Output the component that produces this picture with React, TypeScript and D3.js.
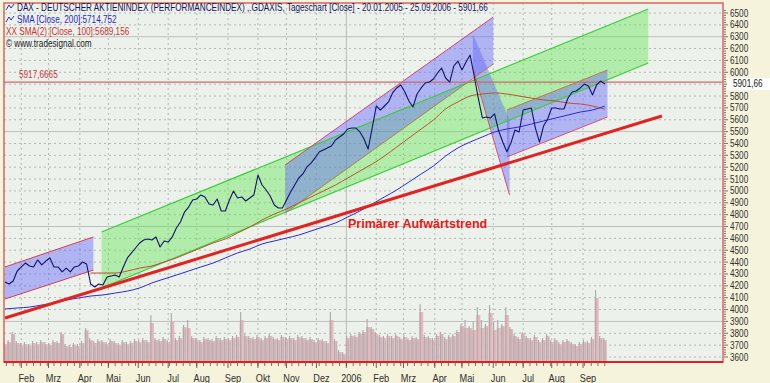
import React from "react";
import * as d3 from "d3";

const W = 770;
const H = 383;

// Weekday index 0 = 14.01.2005 (first bar visible at the left edge)
const START = [2005, 0, 14];
const PRICE_STEP = 3; // one close every 3rd trading day
const SMA_STEP = 9;

const priceClose = [
  4232, 4215, 4241, 4325, 4359, 4392, 4367, 4359, 4418, 4376,
  4409, 4435, 4359, 4359, 4317, 4350, 4317, 4359, 4367, 4401,
  4384, 4215, 4190, 4215, 4207, 4274, 4283, 4291, 4274, 4359,
  4435, 4477, 4519, 4561, 4586, 4595, 4586, 4612, 4527, 4578,
  4569, 4612, 4687, 4738, 4822, 4864, 4923, 4932, 4966, 4949,
  4890, 4881, 4932, 4831, 4831, 4923, 4999, 4940, 4949, 4915,
  4940, 4966, 5134, 5050, 5008, 4957, 4881, 4856, 4856, 4923,
  4991, 5050, 5109, 5143, 5202, 5235, 5278, 5328, 5345, 5362,
  5379, 5429, 5455, 5480, 5522, 5530, 5530, 5497, 5438, 5353,
  5530, 5716, 5682, 5716, 5750, 5826, 5868, 5893, 5834, 5758,
  5708, 5817, 5868, 5910, 5918, 5944, 5994, 6036, 5952, 5918,
  6053, 6095, 6020, 6087, 6146, 5969, 5783, 5615, 5623, 5615,
  5649, 5505, 5412, 5330, 5404, 5514, 5497, 5682, 5691, 5699,
  5530, 5412, 5547, 5606, 5699, 5699, 5691, 5691, 5783, 5834,
  5842, 5868, 5901, 5885, 5809, 5893, 5927, 5901.66,
];

const volume = [
  20, 22, 30, 21, 19, 20, 18, 21, 20, 22,
  20, 19, 22, 21, 30, 18, 17, 19, 18, 21,
  34, 24, 21, 23, 22, 20, 23, 21, 19, 22,
  20, 21, 23, 22, 24, 22, 47, 24, 23, 25,
  22, 49, 24, 26, 37, 42, 26, 24, 22, 25,
  24, 23, 26, 24, 25, 24, 26, 27, 50, 28,
  26, 25, 27, 24, 26, 28, 25, 24, 27, 25,
  26, 24, 27, 26, 24, 25, 22, 24, 23, 21,
  50, 23, 12, 10, 26, 28, 27, 30, 32, 43,
  35, 30, 27, 26, 28, 26, 28, 25, 27, 24,
  26, 25, 58, 27, 26, 24, 28, 30, 25, 27,
  28, 32, 38, 42, 36, 40, 55, 42, 38, 57,
  40, 42, 38, 55, 35, 28, 25, 30, 26, 24,
  27, 22, 24, 28, 22, 24, 20, 22, 23, 20,
  18, 20, 22, 21, 25, 72, 26, 24,
];

const sma200 = [
  4005, 4013, 4021, 4038, 4055, 4080, 4097, 4114, 4123, 4139,
  4156, 4182, 4224, 4258, 4291, 4325, 4359, 4392, 4435, 4477,
  4510, 4553, 4578, 4603, 4628, 4662, 4696, 4730, 4780, 4831,
  4890, 4949, 5008, 5075, 5143, 5210, 5294, 5362, 5412, 5455,
  5497, 5522, 5539, 5564, 5590, 5615, 5640, 5665, 5682, 5714.752,
];

const sma100: (number | null)[] = [
  null, null, null, null, null, null, null,
  4308, 4308, 4308, 4325, 4350, 4367, 4401, 4435, 4477, 4519,
  4561, 4595, 4645, 4696, 4755, 4805, 4848, 4898, 4949, 4999,
  5050, 5109, 5168, 5227, 5294, 5370, 5446, 5522, 5598, 5691,
  5750, 5800, 5817, 5826, 5817, 5800, 5783, 5767, 5758, 5741,
  5733, 5716, 5689.156,
];

// Drawn channels: [startIdx, endIdx, topStart, topEnd, bottomStart, bottomEnd]
const greenChannel = [71, 473, 4654, 6534, 4182, 6079];
const blueChannel1 = [0, 65, 4359, 4612, 4089, 4333];
const blueChannel2 = [206, 359, 5219, 6466, 4814, 6070];
const crashChannel = [344, 371, 6322, 5598, 6036, 4966];
const blueChannel4 = [369, 443, 5682, 6019, 5286, 5623];
// Primary trend line: [startIdx, startValue, endIdx, endValue]
const trendLine = [0, 3929, 483, 5632];
const hLevel = 5917.6665;
const lastClose = 5901.66;

const monthNames = ["Jan", "Feb", "Mrz", "Apr", "Mai", "Jun", "Jul", "Aug", "Sep", "Okt", "Nov", "Dez"];
const yTicks = d3.range(3600, 6501, 100);
const yMajorGrid = [3900, 4700, 5500, 6300];

const legendLines = [
  "DAX  - DEUTSCHER AKTIENINDEX (PERFORMANCEINDEX) ,.GDAXIS, Tageschart [Close] - 20.01.2005 - 25.09.2006 - 5901,66",
  "SMA [Close, 200]:5714,752",
  "XX SMA(2) [Close, 100]:5689,156",
  "© www.tradesignal.com",
];

const FONT = "'Liberation Sans', Arial, sans-serif";
const PLOT_L = 4, PLOT_R = 723, PLOT_T = 3, PLOT_B = 362;
const LAST_IDX = (priceClose.length - 1) * PRICE_STEP;

export default function App() {
  const weekdays: Date[] = [];
  const d = new Date(START[0], START[1], START[2]);
  while (weekdays.length < 530) {
    const wd = d.getDay();
    if (wd !== 0 && wd !== 6) weekdays.push(new Date(d));
    d.setDate(d.getDate() + 1);
  }

  const x = d3.scaleLinear().domain([0, 528]).range([5, 5 + 528 * 1.36]);
  const y = d3.scaleLinear().domain([3600, 6500]).range([357, 13]);
  const yVol = d3.scaleLinear().domain([0, 100]).range([PLOT_B, PLOT_B - 100]);
  const barStep = x(PRICE_STEP) - x(0);

  const monthTicks: { i: number; label: string; year: boolean }[] = [];
  const weekTicks: number[] = [];
  for (let i = 1; i <= LAST_IDX; i++) {
    const a = weekdays[i], b = weekdays[i - 1];
    if (a.getMonth() !== b.getMonth()) {
      monthTicks.push({ i, label: a.getMonth() === 0 ? String(a.getFullYear()) : monthNames[a.getMonth()], year: a.getMonth() === 0 });
    }
    if (a.getDay() === 1) weekTicks.push(i);
  }

  const pricePts = priceClose.map((v, k) => [x(k * PRICE_STEP), y(v)] as [number, number]);
  const line = d3.line();
  const smooth = d3.line().curve(d3.curveMonotoneX);
  const sma200Pts = sma200.map((v, j) => [x(j * SMA_STEP), y(v)] as [number, number]);
  const sma100Pts = sma100
    .map((v, j) => (v == null ? null : ([x(j * SMA_STEP), y(v)] as [number, number])))
    .filter((p): p is [number, number] => p != null);

  const chanPoly = (c: number[]) =>
    `M${x(c[0])},${y(c[2])}L${x(c[1])},${y(c[3])}L${x(c[1])},${y(c[5])}L${x(c[0])},${y(c[4])}Z`;
  const seg = (c: number[], top: boolean) =>
    top
      ? { x1: x(c[0]), y1: y(c[2]), x2: x(c[1]), y2: y(c[3]) }
      : { x1: x(c[0]), y1: y(c[4]), x2: x(c[1]), y2: y(c[5]) };

  const blueFill = "rgba(95,95,250,0.42)";
  const greenFill = "rgba(95,228,80,0.42)";

  const icon = (yy: number, color: string) => (
    <path d={`M6,${yy}L9,${yy - 5}L11,${yy - 2}L14,${yy - 6}`} fill="none" stroke={color} strokeWidth={1} />
  );

  return (
    <svg width={W} height={H} style={{ position: "absolute", left: 0, top: 0 }} fontFamily={FONT}>
      <rect x={0} y={0} width={W} height={H} fill="#f5f3dc" />
      <rect x={PLOT_L} y={PLOT_T} width={PLOT_R - PLOT_L} height={PLOT_B - PLOT_T} fill="#edf1ec" />
      <defs>
        <clipPath id="plotclip">
          <rect x={PLOT_L} y={PLOT_T} width={PLOT_R - PLOT_L} height={PLOT_B - PLOT_T} />
        </clipPath>
      </defs>

      {/* horizontal grid */}
      {yTicks.map((t) => (
        <line key={"gy" + t} x1={PLOT_L} x2={PLOT_R} y1={y(t)} y2={y(t)}
          stroke={yMajorGrid.includes(t) ? "#bcc0bc" : "#b4b8b4"}
          strokeDasharray={yMajorGrid.includes(t) ? undefined : "2,3"} strokeWidth={1} />
      ))}
      {/* vertical grid */}
      {monthTicks.map((m) => (
        <line key={"gx" + m.i} x1={x(m.i)} x2={x(m.i)} y1={PLOT_T} y2={PLOT_B}
          stroke={m.year ? "#b8bcb8" : "#b4b8b4"} strokeDasharray={m.year ? undefined : "2,3"} />
      ))}

      <g clipPath="url(#plotclip)">
        {/* volume */}
        {volume.map((v, k) => {
          const bx = x(k * PRICE_STEP) - barStep / 2;
          const top = yVol(v);
          const spike = v >= 40;
          return (
            <g key={"v" + k}>
              <rect x={bx} y={top + (spike ? 8 : 2)} width={barStep} height={PLOT_B - top - (spike ? 8 : 2)} fill="#e3b8bc" />
              <rect x={bx + 0.5} y={top} width={1.1} height={PLOT_B - top} fill="#aaa9ab" />
              {!spike && <rect x={bx + barStep * 0.6} y={top + 4} width={0.9} height={PLOT_B - top - 4} fill="#bcb4b6" />}
            </g>
          );
        })}

        {/* channels */}
        <path d={chanPoly(greenChannel)} fill={greenFill} />
        <path d={chanPoly(blueChannel1)} fill={blueFill} />
        <path d={chanPoly(blueChannel2)} fill={blueFill} />
        <path d={chanPoly(crashChannel)} fill={blueFill} />
        <path d={chanPoly(blueChannel4)} fill={blueFill} />

        <line {...seg(greenChannel, true)} stroke="#3ccd3c" strokeWidth={1.2} />
        <line {...seg(greenChannel, false)} stroke="#3ccd3c" strokeWidth={1.2} />
        <line {...seg(blueChannel1, true)} stroke="#d83c50" strokeWidth={1} />
        <line {...seg(blueChannel1, false)} stroke="#d83c50" strokeWidth={1} />
        <line {...seg(blueChannel2, true)} stroke="#d8407a" strokeWidth={1} />
        <line {...seg(blueChannel2, false)} stroke="#b88040" strokeWidth={1} />
        <line {...seg(crashChannel, false)} stroke="#d8507a" strokeWidth={1} />
        <line {...seg(blueChannel4, true)} stroke="#c87838" strokeWidth={1} />
        <line {...seg(blueChannel4, false)} stroke="#d8507a" strokeWidth={1} />

        {/* horizontal level */}
        <line x1={PLOT_L} x2={PLOT_R} y1={y(hLevel)} y2={y(hLevel)} stroke="#cc6a6a" strokeWidth={1.2} />

        {/* moving averages */}
        <path d={smooth(sma100Pts) || ""} fill="none" stroke="#c0502c" strokeWidth={1} />
        <path d={smooth(sma200Pts) || ""} fill="none" stroke="#2a2ad0" strokeWidth={1} />

        {/* primary trend */}
        <line x1={x(trendLine[0])} y1={y(trendLine[1])} x2={x(trendLine[2])} y2={y(trendLine[3])}
          stroke="#e02424" strokeWidth={3} />

        {/* price */}
        <path d={line(pricePts) || ""} fill="none" stroke="#12126a" strokeWidth={1.1} strokeLinejoin="round" />
      </g>

      {/* frame */}
      <rect x={PLOT_L} y={PLOT_T} width={PLOT_R - PLOT_L} height={PLOT_B - PLOT_T} fill="none" stroke="#d86464" strokeWidth={1.5} />
      <line x1={PLOT_L} x2={PLOT_R} y1={PLOT_B} y2={PLOT_B} stroke="#e02020" strokeWidth={2} />

      {/* y axis ticks */}
      {d3.range(3600, 6521, 20).map((t) => (
        <line key={"ym" + t} x1={PLOT_R + 1} x2={PLOT_R + (t % 100 === 0 ? 5 : 3)} y1={y(t)} y2={y(t)} stroke="#505050" strokeWidth={0.8} />
      ))}
      {yTicks.filter((t) => Math.abs(t - lastClose) > 60).map((t) => (
        <text key={"yl" + t} transform={`translate(730,${y(t) + 3.5}) scale(0.82,1)`} fontSize={10} fill="#303030">{t}</text>
      ))}
      <rect x={727} y={y(lastClose) - 6} width={43} height={12} fill="#ffffff" />
      <text transform={`translate(733,${y(lastClose) + 3.5}) scale(0.82,1)`} fontSize={10} fill="#202020">5901,66</text>

      {/* x axis */}
      {weekTicks.map((i) => (
        <line key={"wt" + i} x1={x(i)} x2={x(i)} y1={PLOT_B + 1} y2={PLOT_B + 4} stroke="#505050" strokeWidth={0.8} />
      ))}
      {monthTicks.map((m) => (
        <g key={"mt" + m.i}>
          <line x1={x(m.i)} x2={x(m.i)} y1={PLOT_B + 1} y2={PLOT_B + 6} stroke="#404040" strokeWidth={0.8} />
          <text transform={`translate(${x(m.i) + 5},${PLOT_B + 20}) scale(0.92,1)`} fontSize={10} textAnchor="middle" fill="#303030">{m.label}</text>
        </g>
      ))}

      {/* annotations */}
      <text transform={`translate(19,${y(hLevel) - 4}) scale(0.82,1)`} fontSize={10} fill="#c43c3c">5917,6665</text>
      <text x={348} y={228} fontSize={12.5} fontWeight="bold" fill="#e02020">Primärer Aufwärtstrend</text>

      {/* legend */}
      {icon(10, "#3030a0")}
      <text transform="translate(17,11) scale(0.78,1)" fontSize={10.5} fill="#14145a">{legendLines[0]}</text>
      {icon(22, "#3030c8")}
      <text transform="translate(17,23) scale(0.78,1)" fontSize={10.5} fill="#2828c0">{legendLines[1]}</text>
      <text transform="translate(6,35) scale(0.78,1)" fontSize={10.5} fill="#c83232">{legendLines[2]}</text>
      <text transform="translate(6,47) scale(0.78,1)" fontSize={10.5} fill="#202020">{legendLines[3]}</text>
    </svg>
  );
}
